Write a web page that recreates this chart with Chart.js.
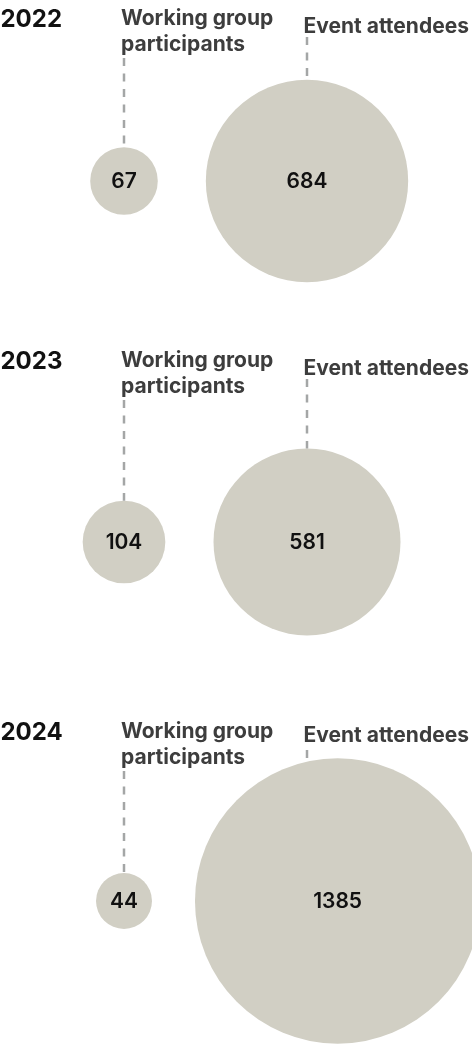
<!DOCTYPE html>
<html>
<head>
<meta charset="utf-8">
<script src="https://cdn.jsdelivr.net/npm/chart.js@4.4.1/dist/chart.umd.min.js"></script>
<style>
  html, body { margin: 0; padding: 0; background: #fff; }
  body { width: 472px; height: 1045px; position: relative; overflow: hidden; }
  canvas.panel { position: absolute; left: 0; }
</style>
</head>
<body>
<script>
// Data
const years = ['2022', '2023', '2024'];
const categories = [['Working group', 'participants'], ['Event attendees']];
const workingGroup = [67, 104, 44];
const eventAttendees = [684, 581, 1385];

// Layout
const W = 472;
const panelTops = [0, 342, 713];
const panelHeights = [362, 400, 376]; // bubble row sits at mid height
const LABEL_X = [121, 303.5];
const LEADER_X = [124, 307];
const GAP = 43;          // space between the two bubbles
const R_MIN = 3.1;       // sqrt scale: radius = R_MIN + R_K * sqrt(value)
const R_K = 3.75;
const FILL = '#d1cfc4';
const FONT = 'Inter, "Noto Sans", sans-serif';

const radius = v => R_MIN + R_K * Math.sqrt(v);

// circle top at a given x
function topAt(p, r, x) {
    const dx = Math.min(Math.abs(x - p.x), r);
    return p.y - Math.sqrt(r * r - dx * dx);
}

const annotate = {
    id: 'annotate',
    afterDatasetsDraw(chart, args, opts) {
        const ctx = chart.ctx;
        const pts = chart.getDatasetMeta(0).data;
        const radii = chart.data.datasets[0].data.map(d => d.r);
        ctx.save();

        // year
        ctx.fillStyle = '#111';
        ctx.font = `700 24px ${FONT}`;
        ctx.textAlign = 'left';
        ctx.textBaseline = 'alphabetic';
        ctx.fillText(opts.year, 0.5, 27);

        // leader lines
        ctx.strokeStyle = '#a4a6a6';
        ctx.lineWidth = 2.5;
        ctx.setLineDash([8, 7.5]);
        const starts = [58, 37];
        pts.forEach((p, i) => {
            const x = LEADER_X[i];
            const end = topAt(p, radii[i], x);
            if (end <= starts[i]) return;
            ctx.beginPath();
            ctx.moveTo(x, starts[i]);
            ctx.lineTo(x, end);
            ctx.stroke();
        });
        ctx.setLineDash([]);

        // category labels
        ctx.fillStyle = '#3d3d3d';
        ctx.font = `700 21px ${FONT}`;
        categories[0].forEach((line, j) => ctx.fillText(line, LABEL_X[0], 24.5 + j * 26));
        // keep the second label clear of a tall bubble
        const eaBase = Math.min(33, topAt(pts[1], radii[1], LEADER_X[1]) - 20);
        categories[1].forEach((line, j) => ctx.fillText(line, LABEL_X[1], eaBase + j * 26));

        // values
        ctx.fillStyle = '#111';
        ctx.font = `600 21px ${FONT}`;
        ctx.textAlign = 'center';
        ctx.textBaseline = 'middle';
        pts.forEach((p, i) => ctx.fillText(String(opts.values[i]), p.x, p.y + 1));

        ctx.restore();
    }
};

years.forEach((year, k) => {
    const canvas = document.createElement('canvas');
    canvas.className = 'panel';
    canvas.width = W;
    canvas.height = panelHeights[k];
    canvas.style.top = panelTops[k] + 'px';
    document.body.appendChild(canvas);

    const values = [workingGroup[k], eventAttendees[k]];
    const r0 = radius(values[0]);
    const r1 = radius(values[1]);
    const x0 = LEADER_X[0];
    const x1 = Math.max(LEADER_X[1], x0 + r0 + GAP + r1);

    new Chart(canvas, {
        type: 'bubble',
        data: {
            datasets: [{
                data: [
                    { x: x0, y: 0, r: r0 },
                    { x: x1, y: 0, r: r1 }
                ],
                backgroundColor: FILL,
                borderWidth: 0,
                hoverRadius: 0,
                clip: false
            }]
        },
        options: {
            responsive: false,
            devicePixelRatio: 1,
            animation: false,
            events: [],
            layout: { padding: 0, autoPadding: false },
            scales: {
                x: { type: 'linear', min: 0, max: W, display: false },
                y: { type: 'linear', min: -1, max: 1, display: false }
            },
            plugins: {
                legend: { display: false },
                tooltip: { enabled: false },
                annotate: { year, values }
            }
        },
        plugins: [annotate]
    });
});
</script>
</body>
</html>
